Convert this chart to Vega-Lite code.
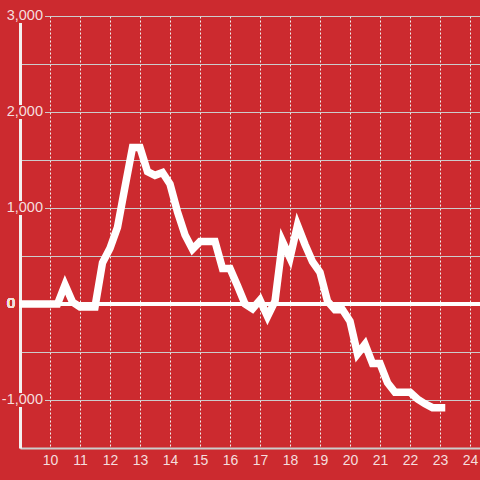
{
  "$schema": "https://vega.github.io/schema/vega-lite/v6.json",
  "width": 460,
  "height": 432,
  "autosize": {"type": "none"},
  "padding": {"left": 20, "top": 16, "right": 0, "bottom": 32},
  "background": "#cc2a2f",
  "config": {"view": {"stroke": null}, "font": "Liberation Sans"},
  "datasets": {
    "series": [
      {"t": 9.1, "v": 0}, {"t": 9.25, "v": 0}, {"t": 9.5, "v": 0}, {"t": 9.75, "v": 0},
      {"t": 10, "v": 0}, {"t": 10.25, "v": 0}, {"t": 10.5, "v": 200}, {"t": 10.75, "v": 20},
      {"t": 11, "v": -30}, {"t": 11.25, "v": -30}, {"t": 11.5, "v": -30}, {"t": 11.75, "v": 430},
      {"t": 12, "v": 580}, {"t": 12.25, "v": 800}, {"t": 12.5, "v": 1220}, {"t": 12.75, "v": 1630},
      {"t": 13, "v": 1630}, {"t": 13.25, "v": 1380}, {"t": 13.5, "v": 1340}, {"t": 13.75, "v": 1370},
      {"t": 14, "v": 1250}, {"t": 14.25, "v": 960}, {"t": 14.5, "v": 720}, {"t": 14.75, "v": 570},
      {"t": 15, "v": 650}, {"t": 15.25, "v": 650}, {"t": 15.5, "v": 650}, {"t": 15.75, "v": 370},
      {"t": 16, "v": 370}, {"t": 16.25, "v": 190}, {"t": 16.5, "v": 0}, {"t": 16.75, "v": -50},
      {"t": 17, "v": 40}, {"t": 17.25, "v": -130}, {"t": 17.5, "v": 30}, {"t": 17.75, "v": 650},
      {"t": 18, "v": 480}, {"t": 18.25, "v": 820}, {"t": 18.5, "v": 620}, {"t": 18.75, "v": 440},
      {"t": 19, "v": 330}, {"t": 19.25, "v": 30}, {"t": 19.5, "v": -60}, {"t": 19.75, "v": -60},
      {"t": 20, "v": -180}, {"t": 20.25, "v": -520}, {"t": 20.5, "v": -420}, {"t": 20.75, "v": -620},
      {"t": 21, "v": -620}, {"t": 21.25, "v": -820}, {"t": 21.5, "v": -920}, {"t": 21.75, "v": -920},
      {"t": 22, "v": -920}, {"t": 22.25, "v": -990}, {"t": 22.5, "v": -1040}, {"t": 22.75, "v": -1080},
      {"t": 23.05, "v": -1080}
    ],
    "ylabels": [
      {"lv": 3000, "lab": "3,000"},
      {"lv": 2000, "lab": "2,000"},
      {"lv": 1000, "lab": "1,000"},
      {"lv": -1000, "lab": "-1,000"}
    ]
  },
  "layer": [
    {
      "data": {"name": "ylabels"},
      "mark": {"type": "point", "shape": "M-1,-0.5H1V0.5H-1Z", "size": 784, "filled": true, "color": "#cc2a2f", "opacity": 1, "strokeWidth": 0},
      "encoding": {
        "x": {"datum": 9.367, "type": "quantitative", "scale": {"domain": [9, 24.333], "nice": false, "zero": false},
          "axis": {"values": [10, 11, 12, 13, 14, 15, 16, 17, 18, 19, 20, 21, 22, 23, 24], "format": "d", "title": null, "ticks": false, "domainColor": "#cccccc", "domainWidth": 2, "grid": true, "gridColor": "#f0f0f0", "gridDash": [2, 2], "gridWidth": 1, "labelColor": "#f5dede", "labelFontSize": 14, "labelPadding": 5, "labelFlush": false, "labelOverlap": false}},
        "y": {"field": "lv", "type": "quantitative", "scale": {"domain": [-1500, 3000], "nice": false, "zero": false},
          "axis": {"values": [-1500, -1000, -500, 0, 500, 1000, 1500, 2000, 2500, 3000], "labels": false, "title": null, "ticks": false, "grid": true, "domain": true, "domainColor": "#f4f0f0", "domainWidth": 3, "gridColor": "#cccccc", "gridWidth": 1}}
      }
    },
    {
      "data": {"name": "ylabels"},
      "mark": {"type": "text", "align": "right", "baseline": "middle", "dx": -2, "fontSize": 14.5, "color": "#f5dede", "font": "Liberation Sans"},
      "encoding": {
        "x": {"datum": 9.833, "type": "quantitative", "scale": {"domain": [9, 24.333], "nice": false, "zero": false},
          "axis": {"values": [10, 11, 12, 13, 14, 15, 16, 17, 18, 19, 20, 21, 22, 23, 24], "format": "d", "title": null, "ticks": false, "domainColor": "#cccccc", "domainWidth": 2, "grid": true, "gridColor": "#f0f0f0", "gridDash": [2, 2], "gridWidth": 1, "labelColor": "#f5dede", "labelFontSize": 14, "labelPadding": 5, "labelFlush": false, "labelOverlap": false}},
        "y": {"field": "lv", "type": "quantitative", "scale": {"domain": [-1500, 3000], "nice": false, "zero": false},
          "axis": {"values": [-1500, -1000, -500, 0, 500, 1000, 1500, 2000, 2500, 3000], "labels": false, "title": null, "ticks": false, "grid": true, "domain": true, "domainColor": "#f4f0f0", "domainWidth": 3, "gridColor": "#cccccc", "gridWidth": 1}},
        "text": {"field": "lab"}
      }
    },
    {
      "data": {"name": "series"},
      "mark": {"type": "text", "text": "0", "align": "right", "baseline": "middle", "dx": -5, "fontSize": 14.5, "color": "#f5dede", "font": "Liberation Sans"},
      "encoding": {
        "x": {"datum": 9, "type": "quantitative", "scale": {"domain": [9, 24.333], "nice": false, "zero": false},
          "axis": {"values": [10, 11, 12, 13, 14, 15, 16, 17, 18, 19, 20, 21, 22, 23, 24], "format": "d", "title": null, "ticks": false, "domainColor": "#cccccc", "domainWidth": 2, "grid": true, "gridColor": "#f0f0f0", "gridDash": [2, 2], "gridWidth": 1, "labelColor": "#f5dede", "labelFontSize": 14, "labelPadding": 5, "labelFlush": false, "labelOverlap": false}},
        "y": {"datum": 0, "type": "quantitative", "scale": {"domain": [-1500, 3000], "nice": false, "zero": false},
          "axis": {"values": [-1500, -1000, -500, 0, 500, 1000, 1500, 2000, 2500, 3000], "labels": false, "title": null, "ticks": false, "grid": true, "domain": true, "domainColor": "#f4f0f0", "domainWidth": 3, "gridColor": "#cccccc", "gridWidth": 1}}
      }
    },
    {
      "data": {"name": "series"},
      "mark": {"type": "rule", "color": "#ffffff", "strokeWidth": 3},
      "encoding": {
        "y": {"datum": 0, "type": "quantitative", "scale": {"domain": [-1500, 3000], "nice": false, "zero": false},
          "axis": {"values": [-1500, -1000, -500, 0, 500, 1000, 1500, 2000, 2500, 3000], "labels": false, "title": null, "ticks": false, "grid": true, "domain": true, "domainColor": "#f4f0f0", "domainWidth": 3, "gridColor": "#cccccc", "gridWidth": 1}}
      }
    },
    {
      "data": {"name": "series"},
      "mark": {"type": "line", "color": "#ffffff", "strokeWidth": 7.5, "strokeCap": "square", "strokeJoin": "miter"},
      "encoding": {
        "x": {"field": "t", "type": "quantitative", "scale": {"domain": [9, 24.333], "nice": false, "zero": false},
          "axis": {"values": [10, 11, 12, 13, 14, 15, 16, 17, 18, 19, 20, 21, 22, 23, 24], "format": "d", "title": null, "ticks": false, "domainColor": "#cccccc", "domainWidth": 2, "grid": true, "gridColor": "#f0f0f0", "gridDash": [2, 2], "gridWidth": 1, "labelColor": "#f5dede", "labelFontSize": 14, "labelPadding": 5, "labelFlush": false, "labelOverlap": false}},
        "y": {"field": "v", "type": "quantitative", "scale": {"domain": [-1500, 3000], "nice": false, "zero": false},
          "axis": {"values": [-1500, -1000, -500, 0, 500, 1000, 1500, 2000, 2500, 3000], "labels": false, "title": null, "ticks": false, "grid": true, "domain": true, "domainColor": "#f4f0f0", "domainWidth": 3, "gridColor": "#cccccc", "gridWidth": 1}}
      }
    }
  ]
}
